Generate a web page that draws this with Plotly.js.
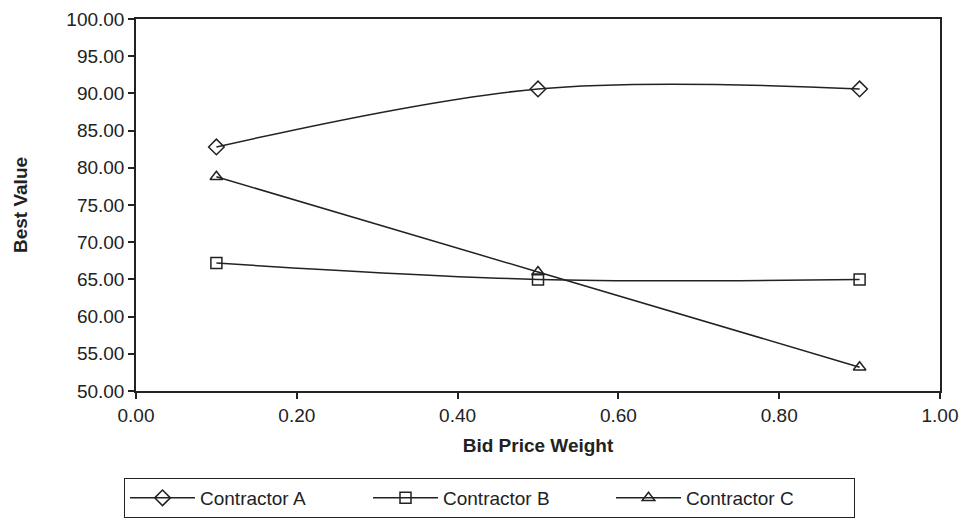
<!DOCTYPE html>
<html><head><meta charset="utf-8">
<script src="https://cdn.plot.ly/plotly-3.0.1.min.js"></script>
<style>body{margin:0;background:#fff}#c{width:964px;height:520px}</style>
</head><body><div id="c"></div>
<script>
const weights = [0.1, 0.5, 0.9];
const contractorA = [82.8, 90.6, 90.6];
const contractorB = [67.2, 65.0, 65.0];
const contractorC = [78.8, 66.0, 53.2];
const seriesNames = ['Contractor A', 'Contractor B', 'Contractor C'];
const symbols = ['diamond-open', 'square-open', 'triangle-up-open'];
const ink = '#222';
const series = [contractorA, contractorB, contractorC];
const traces = series.map((ys, i) => ({
  x: weights, y: ys, name: seriesNames[i], type: 'scatter', mode: 'lines+markers',
  line: {color: ink, width: 1.5, shape: 'spline', smoothing: 1},
  marker: {symbol: symbols[i], size: i === 0 ? 12 : 11, color: ink, line: {color: ink, width: 1.5}}
}));
const layout = {
  width: 964, height: 520,
  margin: {l: 136, r: 24, t: 19, b: 129},
  paper_bgcolor: '#fff', plot_bgcolor: '#fff',
  font: {family: 'Liberation Sans, Arial, sans-serif', size: 19, color: ink},
  showlegend: true,
  xaxis: {
    range: [0, 1], dtick: 0.2, tick0: 0, tickformat: '.2f',
    showgrid: false, zeroline: false, showline: true, mirror: true,
    linecolor: ink, linewidth: 1.5, ticks: 'outside', ticklen: 6, tickcolor: ink, tickwidth: 1.5,
    title: {text: '<b>Bid Price Weight</b>', font: {size: 19, color: ink}, standoff: 14}
  },
  yaxis: {
    range: [50, 100], dtick: 5, tickformat: '.2f',
    showgrid: false, zeroline: false, showline: true, mirror: true,
    linecolor: ink, linewidth: 1.5, ticks: 'outside', ticklen: 6, tickcolor: ink, tickwidth: 1.5,
    title: {text: '<b>Best Value</b>', font: {size: 19, color: ink}, standoff: 34}
  },
  legend: {
    orientation: 'h', xref: 'container', yref: 'container',
    x: 124 / 964, xanchor: 'left', y: 2 / 520, yanchor: 'bottom',
    bordercolor: ink, borderwidth: 1, bgcolor: '#fff',
    font: {size: 19, color: ink}, itemwidth: 65, entrywidth: 163, tracegroupgap: 0
  }
};
Plotly.newPlot('c', traces, layout, {displayModeBar: false});
</script></body></html>
